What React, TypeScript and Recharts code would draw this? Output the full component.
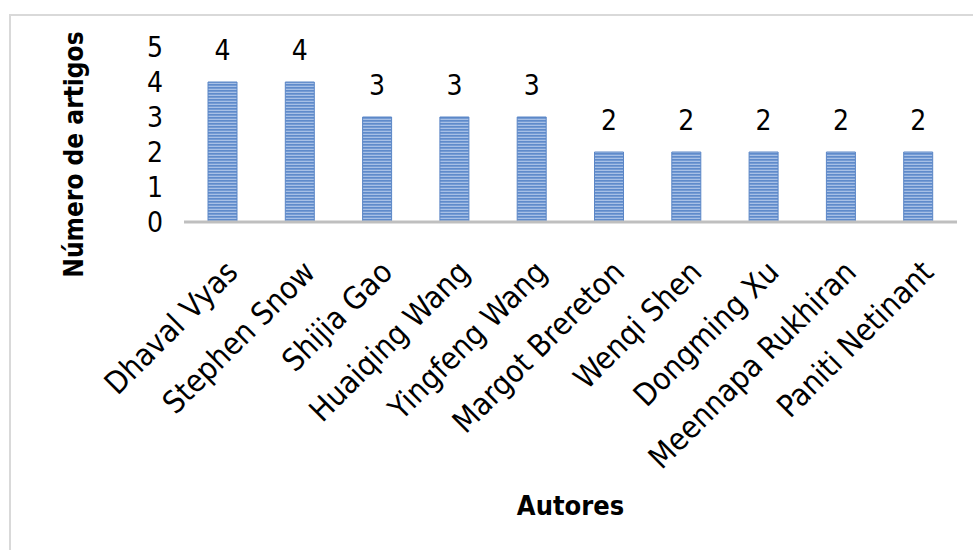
import React from 'react';
import { BarChart, Bar, XAxis, YAxis, LabelList } from 'recharts';

const autores = [
  'Dhaval Vyas',
  'Stephen Snow',
  'Shijia Gao',
  'Huaiqing Wang',
  'Yingfeng Wang',
  'Margot Brereton',
  'Wenqi Shen',
  'Dongming Xu',
  'Meennapa Rukhiran',
  'Paniti Netinant',
];
const artigos = [4, 4, 3, 3, 3, 2, 2, 2, 2, 2];
const yTicks = [0, 1, 2, 3, 4, 5];

const FONT = '"DejaVu Sans Condensed", "DejaVu Sans", sans-serif';

const data = autores.map((nome, i) => ({ nome, artigos: artigos[i] }));

// rotated category names, anchored at their end just below the axis
const AuthorTick = (props: any) => {
  const { x, y, payload } = props;
  return (
    <g transform={`translate(${x + 17},${y + 44})`}>
      <text
        transform="rotate(-45)"
        textAnchor="end"
        fontFamily={FONT}
        fontSize={31}
        fill="#000"
      >
        {payload.value}
      </text>
    </g>
  );
};

const YTitle = (props: any) => {
  const { viewBox } = props;
  const cx = viewBox.x - 50;
  const cy = viewBox.y + viewBox.height / 2 + 20;
  return (
    <text
      x={cx}
      y={cy}
      transform={`rotate(-90, ${cx}, ${cy})`}
      textAnchor="middle"
      dominantBaseline="central"
      fontFamily={FONT}
      fontWeight="bold"
      fontSize={26}
      fill="#000"
    >
      Número de artigos
    </text>
  );
};

export default function App() {
  return (
    <div style={{ position: 'absolute', left: 0, top: 0, width: 973, height: 550, background: '#fff' }}>
      <div
        style={{
          position: 'absolute',
          left: 9,
          top: 14,
          right: 0,
          bottom: 0,
          borderTop: '2px solid #d9d9d9',
          borderLeft: '2px solid #d9d9d9',
        }}
      />
      <BarChart
        width={973}
        height={550}
        data={data}
        margin={{ top: 47, right: 16, bottom: 0, left: 124 }}
        barSize={29}
        style={{ position: 'absolute', left: 0, top: 0 }}
      >
        <defs>
          <pattern id="stripes" width="6" height="3" patternUnits="userSpaceOnUse">
            <rect width="6" height="3" fill="#a7c0e6" />
            <rect width="6" height="1.7" fill="#5f8bcb" />
          </pattern>
        </defs>
        <XAxis
          dataKey="nome"
          interval={0}
          height={328}
          tickLine={false}
          axisLine={{ stroke: '#bfbfbf', strokeWidth: 3 }}
          tick={<AuthorTick />}
          label={{
            value: 'Autores',
            position: 'insideBottom',
            offset: 35,
            fontFamily: FONT,
            fontWeight: 'bold',
            fontSize: 27,
            fill: '#000',
          }}
        />
        <YAxis
          width={60}
          domain={[0, 5]}
          ticks={yTicks}
          interval={0}
          axisLine={false}
          tickLine={false}
          tickSize={0}
          tickMargin={21}
          tick={{ fontFamily: FONT, fontSize: 28, fill: '#000' }}
          label={<YTitle />}
        />
        <Bar dataKey="artigos" fill="url(#stripes)" stroke="#5b86c6" strokeWidth={1} isAnimationActive={false}>
          <LabelList
            dataKey="artigos"
            position="top"
            offset={22}
            fontFamily={FONT}
            fontSize={28}
            fill="#000"
          />
        </Bar>
      </BarChart>
    </div>
  );
}
